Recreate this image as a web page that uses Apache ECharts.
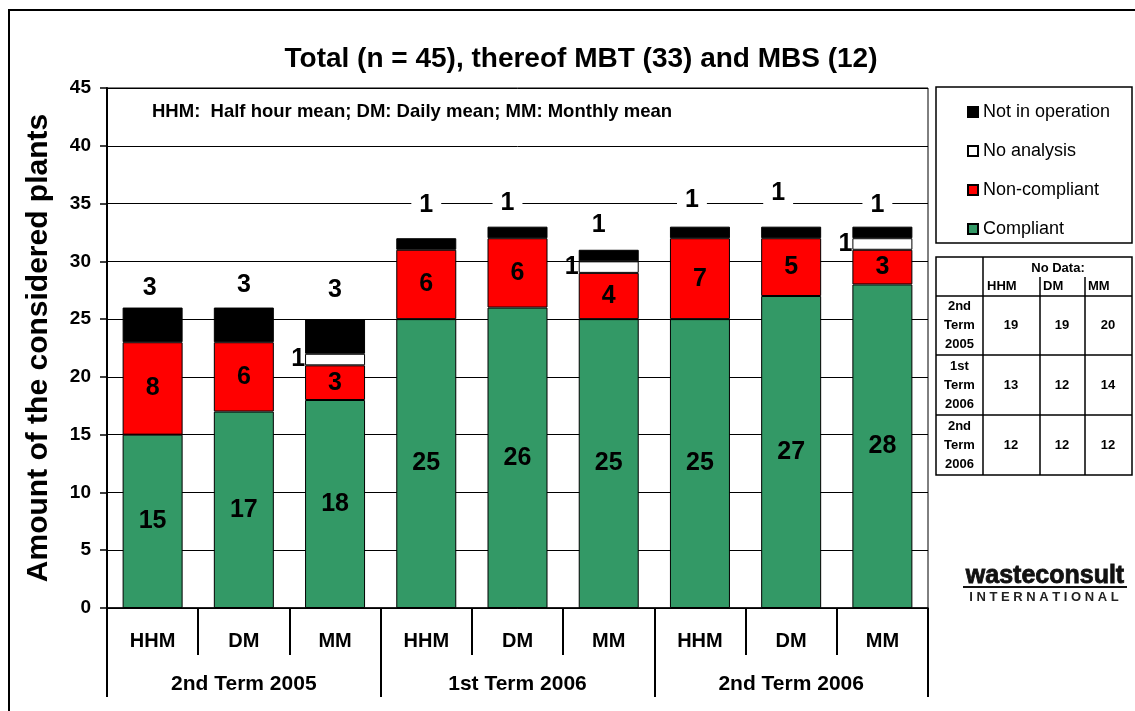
<!DOCTYPE html>
<html>
<head>
<meta charset="utf-8">
<script src="https://cdn.jsdelivr.net/npm/echarts@6/dist/echarts.min.js"></script>
<style>
  html, body { margin: 0; padding: 0; background: #fff; }
  #chart { width: 1135px; height: 711px; }
</style>
</head>
<body>
<div id="chart"></div>
<script>
// ---- data ----
const categories = ['HHM', 'DM', 'MM', 'HHM', 'DM', 'MM', 'HHM', 'DM', 'MM'];
const groups = ['2nd Term 2005', '1st Term 2006', '2nd Term 2006'];
const compliant = [15, 17, 18, 25, 26, 25, 25, 27, 28];
const nonCompliant = [8, 6, 3, 6, 6, 4, 7, 5, 3];
const noAnalysis = [0, 0, 1, 0, 0, 1, 0, 0, 1];
const notInOperation = [3, 3, 3, 1, 1, 1, 1, 1, 1];
const yTicks = [0, 5, 10, 15, 20, 25, 30, 35, 40, 45];
const tableTerms = [['2nd', 'Term', '2005'], ['1st', 'Term', '2006'], ['2nd', 'Term', '2006']];
const noDataHHM = [19, 13, 12];
const noDataDM = [19, 12, 12];
const noDataMM = [20, 14, 12];

// label placement for "Not in operation" (gap above bar, horizontal shift)
const notOpLabelGap = [7, 10, 17, 21, 11, 12, 14, 21, 9];
const notOpLabelShift = [-3, 0, 0, 0, -10, -10, -8, -13, -5];

const FONT = '"Liberation Sans", Arial, sans-serif';
const chart = echarts.init(document.getElementById('chart'));

const labelBase = { show: true, color: '#000', fontFamily: FONT, fontWeight: 'bold', fontSize: 25 };
const barBorder = { borderColor: '#000', borderWidth: 1 };

// table graphics
const tableG = [];
const TX = 936, TY = 257, TW = 196, TH = 218;
tableG.push({ type: 'rect', shape: { x: TX, y: TY, width: TW, height: TH }, style: { fill: '#fff', stroke: '#000', lineWidth: 1.5 } });
tableG.push({ type: 'line', shape: { x1: 983, y1: TY, x2: 983, y2: TY + TH }, style: { stroke: '#000', lineWidth: 1.5 } });
tableG.push({ type: 'line', shape: { x1: 1040, y1: 277, x2: 1040, y2: TY + TH }, style: { stroke: '#000', lineWidth: 1.5 } });
tableG.push({ type: 'line', shape: { x1: 1085, y1: 277, x2: 1085, y2: TY + TH }, style: { stroke: '#000', lineWidth: 1.5 } });
const rowLines = [296, 355, 415];
rowLines.forEach(y => tableG.push({ type: 'line', shape: { x1: TX, y1: y, x2: TX + TW, y2: y }, style: { stroke: '#000', lineWidth: 1.5 } }));
const tFont = 'bold 13px ' + FONT;
tableG.push({ type: 'text', style: { text: 'No Data:', x: 1058, y: 268, font: tFont, textAlign: 'center', textVerticalAlign: 'middle', fill: '#000' } });
[['HHM', 987], ['DM', 1043], ['MM', 1088]].forEach(([t, x]) => tableG.push({ type: 'text', style: { text: t, x: x, y: 286, font: tFont, textAlign: 'left', textVerticalAlign: 'middle', fill: '#000' } }));
const rowCenters = [325.5, 385, 445];
tableTerms.forEach((lines, i) => {
  lines.forEach((t, j) => tableG.push({ type: 'text', style: { text: t, x: 959.5, y: rowCenters[i] + (j - 1) * 19, font: tFont, textAlign: 'center', textVerticalAlign: 'middle', fill: '#000' } }));
  [[noDataHHM, 1011], [noDataDM, 1062], [noDataMM, 1108]].forEach(([arr, x]) => tableG.push({ type: 'text', style: { text: String(arr[i]), x: x, y: rowCenters[i], font: tFont, textAlign: 'center', textVerticalAlign: 'middle', fill: '#000' } }));
});

const option = {
  backgroundColor: '#fff',
  animation: false,
  title: {
    text: 'Total (n = 45), thereof MBT (33) and MBS (12)',
    left: 576, top: 40, textAlign: 'center',
    textStyle: { fontFamily: FONT, fontWeight: 'bold', fontSize: 28, color: '#000' }
  },
  legend: {
    orient: 'vertical', left: 962, top: 98,
    itemWidth: 10, itemHeight: 10, icon: 'rect', itemGap: 21,
    data: ['Not in operation', 'No analysis', 'Non-compliant', 'Compliant'],
    textStyle: { fontFamily: FONT, fontSize: 18, color: '#000', lineHeight: 18 }
  },
  grid: [
    { left: 107, top: 88, width: 821, height: 520, show: true, borderColor: '#000', borderWidth: 1, containLabel: false },
    { left: 107, top: 88, width: 821, height: 520, show: false, containLabel: false }
  ],
  xAxis: [
    {
      type: 'category', gridIndex: 0, data: categories,
      axisLine: { show: true, lineStyle: { color: '#000', width: 1.5 } },
      axisTick: { show: true, interval: 0, length: 47, lineStyle: { color: '#000', width: 2 } },
      axisLabel: { interval: 0, margin: 23, color: '#000', fontFamily: FONT, fontWeight: 'bold', fontSize: 20 }
    },
    {
      type: 'category', gridIndex: 1, data: groups, position: 'bottom',
      axisLine: { show: false },
      axisTick: { show: true, interval: 0, length: 89, lineStyle: { color: '#000', width: 2 } },
      axisLabel: { interval: 0, margin: 66, color: '#000', fontFamily: FONT, fontWeight: 'bold', fontSize: 21 }
    }
  ],
  yAxis: [
    {
      type: 'value', gridIndex: 0, min: 0, max: 45, interval: 5,
      name: 'Amount of the considered plants', nameLocation: 'middle', nameGap: 53,
      nameTextStyle: { fontFamily: FONT, fontWeight: 'bold', fontSize: 30, color: '#000' },
      axisLine: { show: true, lineStyle: { color: '#000', width: 2 } },
      axisTick: { show: true, length: 7, lineStyle: { color: '#000', width: 1.5 } },
      axisLabel: { margin: 16, color: '#000', fontFamily: FONT, fontWeight: 'bold', fontSize: 19,
        formatter: v => (yTicks.indexOf(v) >= 0 ? String(v) : '') },
      splitLine: { show: true, lineStyle: { color: '#000', width: 1 } }
    },
    { type: 'value', gridIndex: 1, show: false, min: 0, max: 45 }
  ],
  series: [
    {
      name: 'Compliant', type: 'bar', stack: 'total', barWidth: 60,
      data: compliant,
      itemStyle: Object.assign({ color: '#339966' }, barBorder),
      label: Object.assign({ position: 'inside' }, labelBase)
    },
    {
      name: 'Non-compliant', type: 'bar', stack: 'total', barWidth: 60,
      data: nonCompliant,
      itemStyle: Object.assign({ color: '#FF0000' }, barBorder),
      label: Object.assign({ position: 'inside' }, labelBase)
    },
    {
      name: 'No analysis', type: 'bar', stack: 'total', barWidth: 60,
      data: noAnalysis.map(v => (v === 0 ? '-' : v)),
      itemStyle: Object.assign({ color: '#FFFFFF' }, barBorder),
      label: Object.assign({ position: 'left', distance: 0 }, labelBase)
    },
    {
      name: 'Not in operation', type: 'bar', stack: 'total', barWidth: 60,
      data: notInOperation.map((v, i) => ({
        value: v,
        label: { distance: notOpLabelGap[i], offset: [notOpLabelShift[i], 0] }
      })),
      itemStyle: Object.assign({ color: '#000000' }, barBorder),
      label: Object.assign({ position: 'top', backgroundColor: '#fff', padding: [0, 8, 0, 8] }, labelBase)
    }
  ],
  graphic: [
    { type: 'rect', shape: { x: 9, y: 10, width: 1140, height: 720 }, style: { fill: 'none', stroke: '#000', lineWidth: 2 }, silent: true, z: -10 },
    { type: 'rect', shape: { x: 936, y: 87, width: 196, height: 156 }, style: { fill: 'none', stroke: '#000', lineWidth: 1.5 }, silent: true },
    { type: 'text', style: { text: 'HHM:  Half hour mean; DM: Daily mean; MM: Monthly mean', x: 152, y: 112, font: 'bold 18.5px ' + FONT, textAlign: 'left', textVerticalAlign: 'middle', fill: '#000' }, z: 10 },
    { type: 'text', style: { text: 'wasteconsult', x: 1045, y: 576, font: '900 25px ' + FONT, textAlign: 'center', textVerticalAlign: 'middle', fill: '#111', stroke: '#111', lineWidth: 0.8 } },
    { type: 'line', shape: { x1: 963, y1: 587, x2: 1127, y2: 587 }, style: { stroke: '#111', lineWidth: 2 } },
    { type: 'text', style: { text: 'I N T E R N A T I O N A L', x: 1044, y: 597, font: 'bold 13px ' + FONT, textAlign: 'center', textVerticalAlign: 'middle', fill: '#222' } }
  ].concat(tableG)
};
chart.setOption(option);
</script>
</body>
</html>
